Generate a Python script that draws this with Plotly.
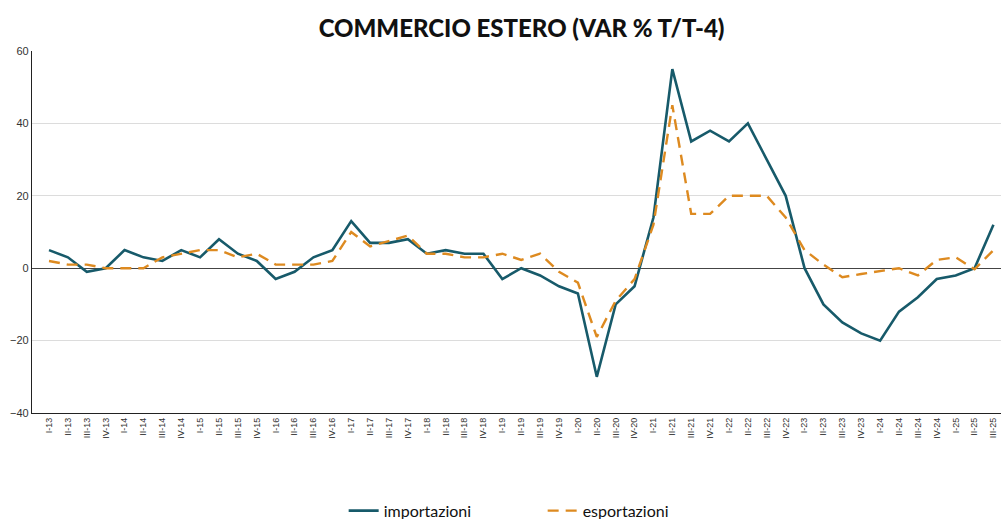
import plotly.graph_objects as go

quarters = ["I", "II", "III", "IV"]
years = ["13", "14", "15", "16", "17", "18", "19", "20", "21", "22", "23", "24", "25"]
categories = [f"{q}-{y}" for y in years for q in quarters][:51]

importazioni = [5, 3, -1, 0, 5, 3, 2, 5, 3, 8, 4, 2, -3, -1, 3, 5, 13, 7, 7, 8,
                4, 5, 4, 4, -3, 0, -2, -5, -7, -30, -10, -5, 14, 55, 35, 38, 35, 40, 30, 20,
                0, -10, -15, -18, -20, -12, -8, -3, -2, 0, 12]
esportazioni = [2, 1, 1, 0, 0, 0, 3, 4, 5, 5, 3, 4, 1, 1, 1, 2, 10, 6, 7.5, 9,
                4, 4, 3, 3, 4, 2.3, 4, -1, -4, -19, -9, -3, 12, 45, 15, 15, 20, 20, 20, 14,
                5, 1, -2.5, -1.6, -0.7, 0, -2, 2.3, 3, -0.3, 5]

fig = go.Figure()
fig.add_trace(go.Scatter(x=categories, y=importazioni, name="importazioni", mode="lines",
                         line=dict(color="#175a6a", width=2.6)))
fig.add_trace(go.Scatter(x=categories, y=esportazioni, name="esportazioni", mode="lines",
                         line=dict(color="#dd8a20", width=2.4, dash="11px,7px")))

fig.update_layout(
    width=1003, height=519,
    paper_bgcolor="white", plot_bgcolor="white",
    margin=dict(l=32, r=2, t=51, b=106, autoexpand=False),
    title=dict(text="COMMERCIO ESTERO (VAR % T/T-4)", x=0.52, xanchor="center", y=0.945, yanchor="middle",
               font=dict(family="Lato", size=24, color="#111111", weight=900)),
    showlegend=True,
    legend=dict(orientation="h", x=0.527, xanchor="center", y=-0.27, yanchor="middle",
                font=dict(family="Lato", size=16, color="#111111"),
                entrywidth=154, entrywidthmode="pixels", tracegroupgap=0),
    xaxis=dict(type="category", range=[-0.9, 50.4], tickangle=-90, showgrid=False, automargin=False,
               showline=True, linecolor="#222222", linewidth=1.2, ticks="",
               tickfont=dict(family="Liberation Sans", size=9, color="#333333")),
    yaxis=dict(range=[-40, 60], dtick=20, showgrid=True, gridcolor="#dcdcdc", gridwidth=1,
               zeroline=True, zerolinecolor="#444444", zerolinewidth=1, automargin=False,
               showline=True, linecolor="#222222", linewidth=1.2, ticks="",
               tickfont=dict(family="Liberation Sans", size=11, color="#333333")),
)

fig.write_html("out.html", config={"displayModeBar": False},
               post_script="document.body.style.margin='0';document.body.style.overflow='hidden';")
